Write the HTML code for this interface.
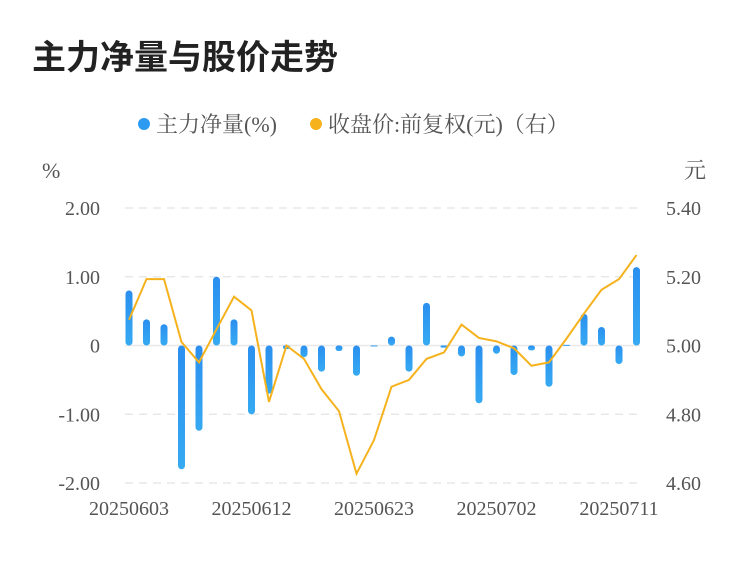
<!DOCTYPE html>
<html><head><meta charset="utf-8"><style>
body{margin:0;background:#fff;width:750px;height:558px;overflow:hidden;font-family:"Liberation Sans","Noto Sans CJK SC",sans-serif;}
</style></head><body>
<svg width="750" height="558">
<defs><linearGradient id="bg" x1="0" y1="0" x2="0" y2="1"><stop offset="0" stop-color="#2b8ff0"/><stop offset="1" stop-color="#36aaf2"/></linearGradient></defs>
<text x="32" y="69" font-size="34" font-weight="bold" fill="#222" font-family="Liberation Sans,Noto Sans CJK SC,sans-serif">主力净量与股价走势</text>
<g font-size="22" fill="#555" font-family="Liberation Serif,Noto Serif CJK SC,serif">
<circle cx="144" cy="124" r="6" fill="#2b9af0"/>
<text x="156" y="132">主力净量(%)</text>
<circle cx="316" cy="124" r="6" fill="#f5b21d"/>
<text x="328" y="132">收盘价:前复权(元)（右）</text>
</g>
<text x="42" y="178" font-size="22" fill="#555" font-family="Liberation Serif,serif">%</text>
<text x="684" y="178" font-size="22" fill="#555" font-family="Liberation Serif,Noto Serif CJK SC,serif">元</text>
<g id="grid"></g><g id="ticks" font-size="20" fill="#555" font-family="Liberation Serif,serif"></g>
<g id="bars"></g><g id="line"></g>
</svg>
<script>
const dates=["20250603","","","","","","","20250612","","","","","","","20250623","","","","","","","20250702","","","","","","","20250711",""];
const net=[0.80,0.38,0.31,-1.80,-1.24,1.00,0.38,-1.00,-0.70,-0.05,-0.17,-0.38,-0.08,-0.44,-0.01,0.13,-0.38,0.62,-0.03,-0.16,-0.84,-0.12,-0.43,-0.07,-0.60,0.01,0.46,0.27,-0.27,1.14];
const price=[5.075,5.193,5.193,5.01,4.951,5.047,5.142,5.102,4.836,5.00,4.961,4.873,4.809,4.627,4.725,4.880,4.90,4.961,4.98,4.061+1,5.022,5.012,4.992,4.941,4.951,5.02,5.093,5.162,5.193,5.263];
const leftTicks=["2.00","1.00","0","-1.00","-2.00"];
const rightTicks=["5.40","5.20","5.00","4.80","4.60"];
const NS="http://www.w3.org/2000/svg";
const yL=v=>345.5-v*68.75, yR=v=>345.5-(v-5)*343.75, x=i=>129+i*17.5;
function mk(t,a,p){const e=document.createElementNS(NS,t);for(const k in a)e.setAttribute(k,a[k]);p.appendChild(e);return e;}
const grid=document.getElementById('grid'),ticks=document.getElementById('ticks');
leftTicks.forEach((t,i)=>{const y=yL(2-i);
 const g=mk('line',{x1:125,x2:640,y1:y,y2:y,stroke:'#e8e8e8','stroke-width':1.5,'stroke-dasharray':i==2?'':'8,6'},grid);
 
 const l=mk('text',{x:100,y:y+7,'text-anchor':'end'},ticks);l.textContent=t;
 
 const r=mk('text',{x:666,y:y+7},ticks);r.textContent=rightTicks[i];
 });
dates.forEach((d,i)=>{if(!d)return;const t=mk('text',{x:x(i),y:515,'text-anchor':'middle'},ticks);t.textContent=d;
 });
const bars=document.getElementById('bars');
net.forEach((v,i)=>{const y0=yL(0),y1=yL(v);const h=Math.max(Math.abs(y1-y0),1);
 const b=mk('rect',{x:x(i)-3.5,y:Math.min(y0,y1),width:7,height:h,rx:Math.min(3.5,h/2),fill:'url(#bg)'},bars);
 });
const pl=mk('polyline',{points:price.map((p,i)=>x(i)+','+yR(p)).join(' '),fill:'none',stroke:'#f5b21d','stroke-width':2},document.getElementById('line'));

</script>
</body></html>
